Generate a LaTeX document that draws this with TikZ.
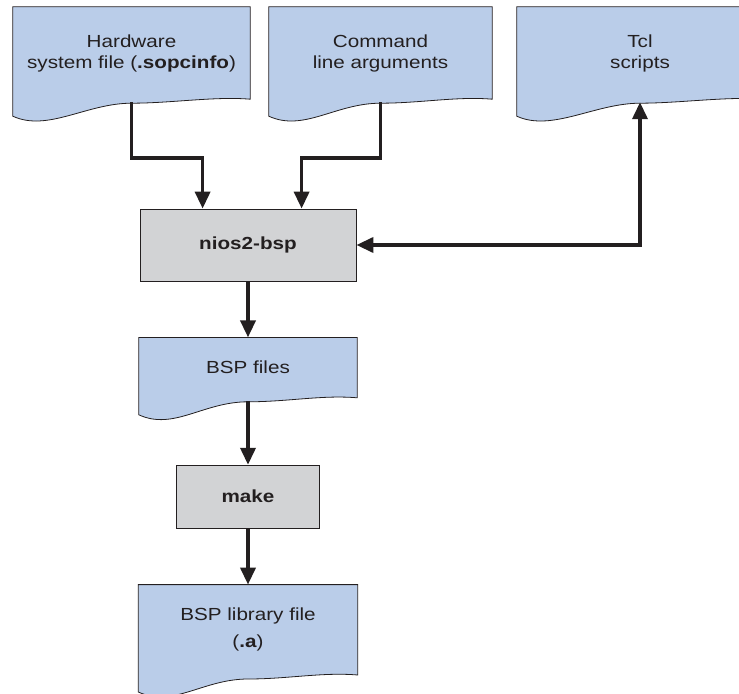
\documentclass[tikz,border=0pt]{standalone}
\usepackage{fontspec}
\setmainfont{Liberation Sans}[FakeStretch=1.18]
\usepackage{tikz}
\usetikzlibrary{calc}
\usetikzlibrary{positioning}
\usetikzlibrary{arrows.meta}
\usetikzlibrary{backgrounds}

\definecolor{docblue}{RGB}{186,205,233}
\definecolor{toolgray}{RGB}{210,211,213}
\definecolor{edgegray}{RGB}{35,31,32}

\newcommand{\labelfont}{\fontsize{17.5bp}{21bp}\selectfont}

\tikzset{
  doc/.style={minimum height=92bp, align=center, inner sep=0pt,
              font=\labelfont, text=edgegray},
  tool/.style={draw=edgegray, line width=0.8bp, fill=toolgray,
               font=\labelfont\bfseries, text=edgegray, inner sep=0pt},
  docedge/.style={draw=edgegray, line width=0.8bp, fill=docblue},
  flow/.style={draw=edgegray, line width=3.6bp,
               -{Triangle[length=17bp,width=15bp]}},
}

\begin{document}
\begin{tikzpicture}[x=1bp, y=-1bp, node distance=56bp]
\useasboundingbox (0,0) rectangle (739,694);

\node[doc, minimum width=237bp] (hw)  at (131.5,53) {Hardware\\system file (\textbf{.sopcinfo})};
\node[doc, minimum width=223bp] (cmd) at (380.5,53) {Command\\line arguments};
\node[doc, minimum width=246bp] (tcl) at (640,53)   {Tcl\\scripts};

\node[tool, minimum width=216bp, minimum height=72bp] (nios) at (248,245) {nios2-bsp};
\node[doc, minimum width=218bp, minimum height=60bp,
      below=56bp of nios] (bspf) {BSP files};
\node[tool, minimum width=143bp, minimum height=63bp,
      below=67bp of bspf] (make) {make};
\node[doc, minimum width=219bp, minimum height=90bp,
      below=56bp of make] (lib) {BSP library file\\[6bp](\textbf{.a})};

% document outlines with the wavy bottom edge
\begin{scope}[on background layer]
\foreach \d in {hw,cmd,tcl,bspf,lib}
  \draw[docedge] (\d.north west) -- (\d.north east) -- (\d.south east)
    .. controls +(-35,-3) and +(40,0) .. ([yshift=-4bp]\d.south)
    .. controls +(-45,0) and +(35,16) .. ([yshift=-17bp]\d.south west)
    -- cycle;
\end{scope}

\coordinate (in1) at ([xshift=63bp]nios.north west);
\coordinate (in2) at ([xshift=162bp]nios.north west);

\draw[flow] ([yshift=-3bp]hw.south)  -- ++(0,56) -| (in1);
\draw[flow] ([yshift=-3bp]cmd.south) -- ++(0,56) -| (in2);
\draw[flow, {Triangle[length=17bp,width=15bp]}-{Triangle[length=17bp,width=15bp]}]
  (nios.east) -| ([yshift=-3bp]tcl.south);
\draw[flow] (nios.south) -- (bspf.north);
\draw[flow] ([yshift=-3bp]bspf.south) -- (make.north);
\draw[flow] (make.south) -- (lib.north);
\end{tikzpicture}
\end{document}
